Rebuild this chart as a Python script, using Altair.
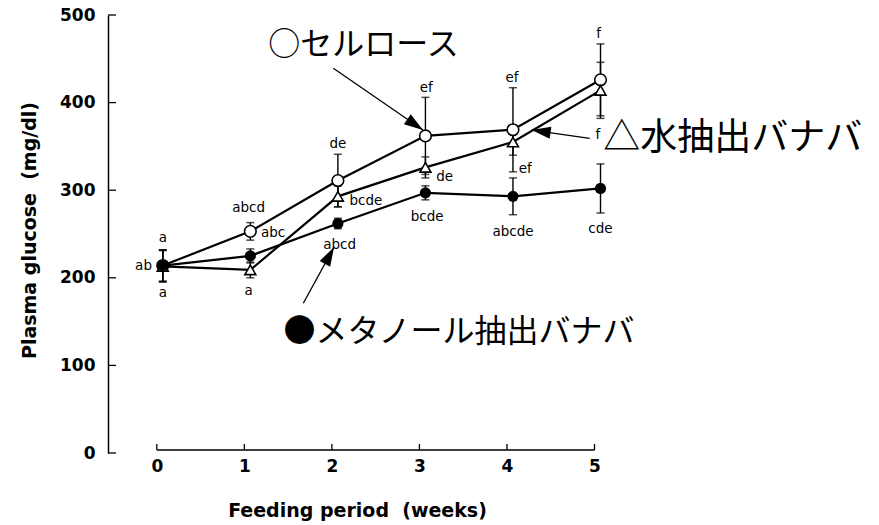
import math
import altair as alt
import pandas as pd

# ---------------- data ----------------
weeks = [0, 1, 2, 3, 4, 5]
cellulose = [214, 253, 311, 362, 369, 426]
cellulose_sd = [18, 10, 30, 44, 48, 41]
water = [213, 209, 293, 326, 355, 414]
water_sd = [18, 9, 12, 12, 15, 32]
methanol = [214, 225, 262, 297, 293, 302]
methanol_sd = [18, 8, 6, 8, 21, 28]

y_tick_values = [0, 100, 200, 300, 400, 500]
x_tick_values = [0, 1, 2, 3, 4, 5]

# significance letters
ann_text = ["a", "ab", "a", "abcd", "abc", "a", "de", "bcde", "abcd",
            "ef", "de", "bcde", "ef", "ef", "abcde", "f", "f", "cde"]
ann_week = [0.0, -0.22, 0.0, 0.98, 1.26, 0.98, 2.0, 2.32, 2.02,
            3.01, 3.22, 3.02, 3.99, 4.14, 4.0, 4.98, 4.97, 5.0]
ann_value = [245, 214, 182.3, 279.3, 250.8, 185, 352.7, 287.7, 237.4,
             416.3, 314.7, 269, 427.7, 323.8, 252.6, 478.3, 363, 255.4]

# series labels
label_text = ["○セルロース", "△水抽出バナバ", "●メタノール抽出バナバ"]
label_week = [1.205, 5.032, 1.379]
label_value = [466.3, 359.0, 137.6]
label_size = [32, 37, 32]

# arrows (start -> tip)
arrow_from_week = [1.948, 4.877, 1.605]
arrow_from_value = [439.2, 359.2, 170.9]
arrow_to_week = [2.972, 4.214, 1.956]
arrow_to_value = [368.7, 368.7, 235.0]

# ---------------- layout ----------------
TOTAL_W, TOTAL_H = 879, 525
PAD_L, PAD_T = 108, 15
W = TOTAL_W - PAD_L
H = 453 - PAD_T
PAD_B = TOTAL_H - PAD_T - H
PXW = 87.54                      # px per week
XMIN = -54.8 / PXW
XMAX = XMIN + W / PXW
YMIN, YMAX = 0, 500
PXV = H / (YMAX - YMIN)
TICK_SHIFT = -6 / PXW            # printed axis is drawn a few px left of the points

FONT = "DejaVu Sans"

xaxis = alt.Axis(values=x_tick_values, domain=False, ticks=False, tickSize=0,
                 grid=False, labelOffset=-6, labelPadding=5,
                 labelFont=FONT, labelFontWeight="bold", labelFontSize=17,
                 labelColor="black", format="d",
                 title="Feeding period \u00a0(weeks)", titleFont=FONT,
                 titleFontWeight="bold", titleFontSize=19, titleColor="black",
                 titleX=357 - PAD_L, titleY=63, titleAlign="center",
                 titleBaseline="alphabetic", titleAnchor="start")
yaxis = alt.Axis(values=y_tick_values, domain=True, domainColor="black",
                 domainWidth=1.5, ticks=False, tickSize=0, grid=False,
                 labelPadding=13, labelFont=FONT, labelFontWeight="bold",
                 labelFontSize=17, labelColor="black",
                 title="Plasma glucose \u00a0(mg/dl)", titleFont=FONT,
                 titleFontWeight="bold", titleFontSize=19, titleColor="black",
                 titleX=35 - PAD_L, titleY=230 - PAD_T, titleAngle=270,
                 titleAlign="center", titleBaseline="alphabetic", titleAnchor="start")

xscale = alt.Scale(domain=[XMIN, XMAX], nice=False, zero=False)
yscale = alt.Scale(domain=[YMIN, YMAX], nice=False, zero=False)


def X(f):
    return alt.X(f"{f}:Q", scale=xscale, axis=xaxis)


def Y(f):
    return alt.Y(f"{f}:Q", scale=yscale, axis=yaxis)


# ---------------- tables ----------------
rows = []
for name, vals, sds in [("cellulose", cellulose, cellulose_sd),
                        ("water", water, water_sd),
                        ("methanol", methanol, methanol_sd)]:
    for w, v, s in zip(weeks, vals, sds):
        rows.append({"series": name, "week": w, "value": v,
                     "lo": v - s, "hi": v + s})
df = pd.DataFrame(rows)

df_ann = pd.DataFrame({"week": ann_week, "value": ann_value, "text": ann_text})
df_lab = pd.DataFrame({"week": label_week, "value": label_value,
                       "text": label_text, "fs": label_size})

angles = []
for x1, y1, x2, y2 in zip(arrow_from_week, arrow_from_value,
                          arrow_to_week, arrow_to_value):
    dx = (x2 - x1) * PXW
    dy = -(y2 - y1) * PXV
    angles.append(math.degrees(math.atan2(dx, -dy)) % 360)
df_arr = pd.DataFrame({"x1": arrow_from_week, "y1": arrow_from_value,
                       "x2": arrow_to_week, "y2": arrow_to_value, "ang": angles})

df_xt = pd.DataFrame({"t": x_tick_values})
df_xt["pos"] = df_xt["t"] + TICK_SHIFT
df_xline = pd.DataFrame({"a": [x_tick_values[0] + TICK_SHIFT],
                         "b": [x_tick_values[-1] + TICK_SHIFT]})
df_yt = pd.DataFrame({"v": y_tick_values})

# ---------------- layers ----------------
base = alt.Chart(df)

lines = base.mark_line(color="black", strokeWidth=2.2).encode(
    x=X("week"), y=Y("value"), detail="series:N")
err = base.mark_rule(color="black", strokeWidth=1.4).encode(
    x=X("week"), y=Y("lo"), y2="hi")
cap_lo = base.mark_tick(color="black", orient="horizontal", size=8,
                        thickness=1.5).encode(x=X("week"), y=Y("lo"))
cap_hi = base.mark_tick(color="black", orient="horizontal", size=8,
                        thickness=1.5).encode(x=X("week"), y=Y("hi"))

pts_cel = alt.Chart(df[df.series == "cellulose"]).mark_point(
    shape="circle", filled=True, fill="white", stroke="black",
    strokeWidth=1.6, size=135, opacity=1).encode(x=X("week"), y=Y("value"))
pts_wat = alt.Chart(df[df.series == "water"]).mark_point(
    shape="triangle-up", filled=True, fill="white", stroke="black",
    strokeWidth=1.6, size=120, opacity=1).encode(x=X("week"), y=Y("value"))
pts_met = alt.Chart(df[df.series == "methanol"]).mark_point(
    shape="circle", filled=True, color="black", size=125,
    opacity=1).encode(x=X("week"), y=Y("value"))

ann = alt.Chart(df_ann).mark_text(font=FONT, fontSize=13.5, color="black",
                                  align="center", baseline="middle").encode(
    x=X("week"), y=Y("value"), text="text:N")

labels = alt.Chart(df_lab).mark_text(font="Noto Sans CJK JP", color="black",
                                     align="left", baseline="middle").encode(
    x=X("week"), y=Y("value"), text="text:N", size=alt.Size("fs:Q", scale=None))

arrow_lines = alt.Chart(df_arr).mark_rule(color="black", strokeWidth=1.3).encode(
    x=X("x1"), x2="x2", y=Y("y1"), y2="y2")
arrow_heads = alt.Chart(df_arr).mark_point(
    shape="M0,0L-0.6,1.9L0.6,1.9Z", filled=True, color="black", size=400,
    opacity=1).encode(x=X("x2"), y=Y("y2"), angle=alt.Angle("ang:Q", scale=None))

x_line = alt.Chart(df_xline).mark_rule(color="black", strokeWidth=1.5).encode(
    x=X("a"), x2="b", y=alt.value(435))
x_ticks = alt.Chart(df_xt).mark_rule(color="black", strokeWidth=1.3).encode(
    x=X("pos"), y=alt.value(435), y2=alt.value(429))
y_ticks = alt.Chart(df_yt).mark_rule(color="black", strokeWidth=1.3).encode(
    y=Y("v"), x=alt.value(0), x2=alt.value(8))

chart = alt.layer(
    x_line, x_ticks, y_ticks, lines, err, cap_lo, cap_hi,
    pts_cel, pts_wat, pts_met, ann, arrow_lines, arrow_heads, labels
).properties(
    width=W, height=H,
    autosize=alt.AutoSizeParams(type="none"),
    padding={"left": PAD_L, "top": PAD_T, "right": 0, "bottom": PAD_B},
    background="white",
).configure_view(stroke=None)

chart.save("out.html", embed_options={"renderer": "svg", "actions": False})
